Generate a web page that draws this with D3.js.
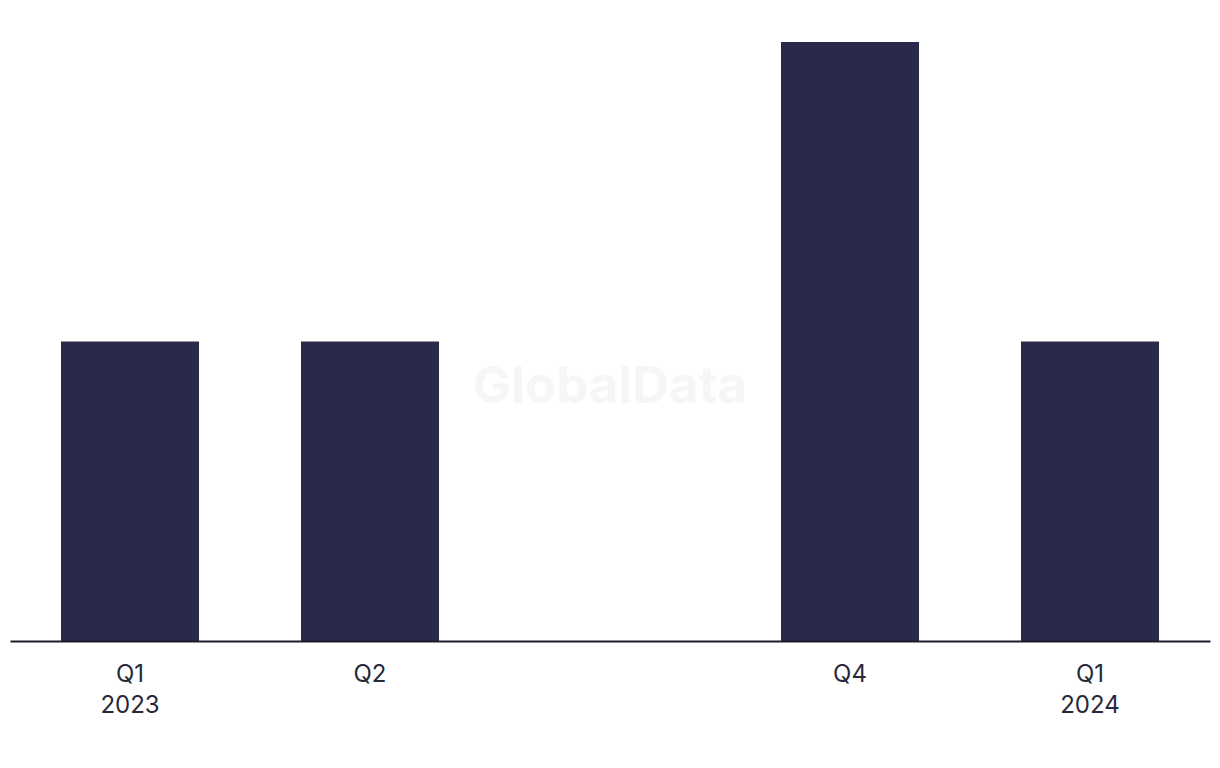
<!DOCTYPE html>
<html>
<head>
<meta charset="utf-8">
<script src="https://cdn.jsdelivr.net/npm/d3@7"></script>
<style>
  body { margin: 0; background: #fff; }
  text { font-family: Inter, "Liberation Sans", Arial, sans-serif; }
</style>
</head>
<body>
<div id="chart"></div>
<script>
// data
var quarters = ["Q1 2023", "Q2 2023", "Q3 2023", "Q4 2023", "Q1 2024"];
var values = [1, 1, 0, 2, 1];
// tick labels (Q3 has no label in the original)
var tickLines = [["Q1", "2023"], ["Q2"], [], ["Q4"], ["Q1", "2024"]];

var width = 1220, height = 768;
var margin = { top: 42, right: 10, bottom: 127, left: 10 };

var svg = d3.select("#chart")
  .append("svg")
  .attr("width", width)
  .attr("height", height);

var x = d3.scaleBand()
  .domain(quarters)
  .range([margin.left, width - margin.right])
  .paddingInner(0.425)
  .paddingOuter(0.2125);

var y = d3.scaleLinear()
  .domain([0, d3.max(values)])
  .range([height - margin.bottom, margin.top]);

// watermark
svg.append("text")
  .attr("x", width / 2)
  .attr("y", 403)
  .attr("text-anchor", "middle")
  .attr("font-weight", 700)
  .attr("font-size", 51)
  .attr("fill", "#f6f6f6")
  .text("GlobalData");

svg.append("g")
  .selectAll("rect")
  .data(values)
  .enter()
  .append("rect")
  .attr("x", (d, i) => x(quarters[i]))
  .attr("width", x.bandwidth())
  .attr("y", d => y(d))
  .attr("height", d => y(0) - y(d))
  .attr("fill", "#28294b");

var xAxis = d3.axisBottom(x).tickSize(0).tickFormat("");
var gx = svg.append("g")
  .attr("transform", "translate(0," + y(0) + ")")
  .call(xAxis);
gx.select(".domain").attr("stroke", "#1c1c2a").attr("stroke-width", 2);

gx.selectAll(".tick")
  .each(function(d, i) {
    var t = d3.select(this).append("text")
      .attr("text-anchor", "middle")
      .attr("fill", "#27283a")
      .attr("font-size", 24);
    tickLines[i].forEach(function(line, j) {
      t.append("tspan")
        .attr("x", 0)
        .attr("y", 41 + j * 31)
        .text(line);
    });
  });
</script>
</body>
</html>
